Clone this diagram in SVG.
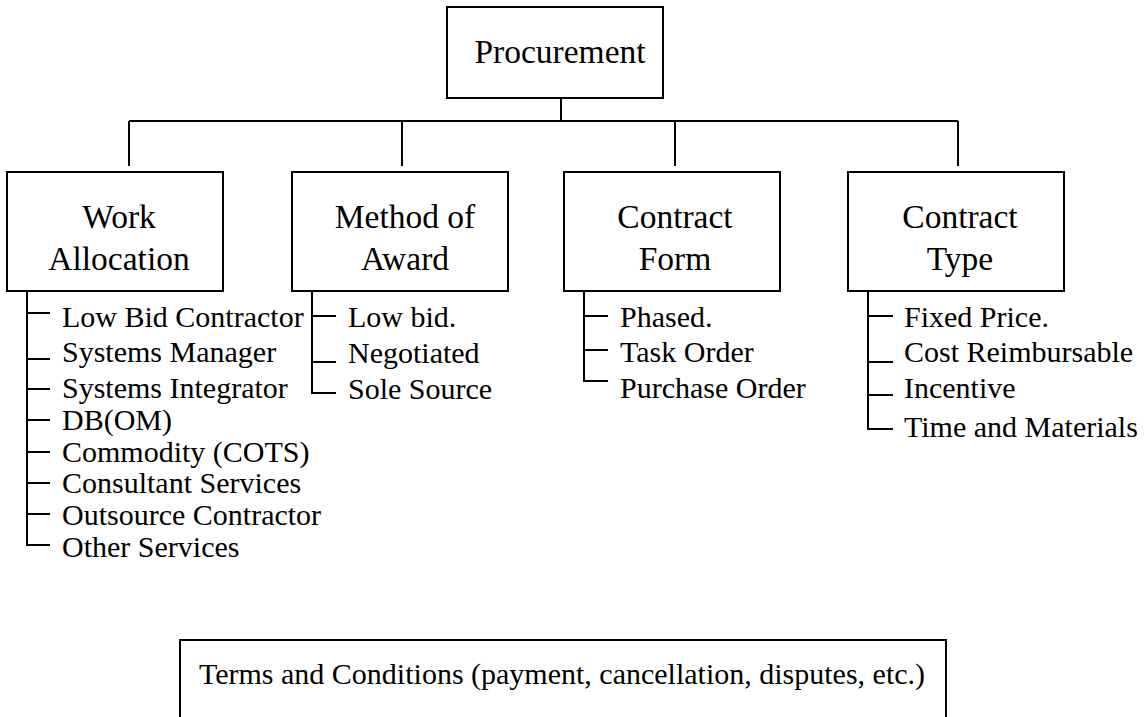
<svg xmlns="http://www.w3.org/2000/svg" width="1147" height="717" viewBox="0 0 1147 717">
  <style>
    .box { fill: #ffffff; stroke: #000000; stroke-width: 2; }
    .line { fill: none; stroke: #000000; stroke-width: 2; }
    .head { font-family: "Liberation Serif", "Times New Roman", serif; font-size: 33.5px; fill: #000000; text-anchor: middle; }
    .item { font-family: "Liberation Serif", "Times New Roman", serif; font-size: 30px; fill: #000000; }
  </style>
  <rect width="1147" height="717" fill="#ffffff"/>

  <!-- tree connectors -->
  <g id="connectors" class="line">
    <path d="M561 98 V121"/>
    <path d="M129 121 H958"/>
    <path d="M129 121 V166 M402 121 V166 M675 121 V166 M958 121 V166"/>
  </g>

  <g id="procurement">
    <rect class="box" x="447" y="7" width="216" height="91"/>
    <text class="head" x="560" y="63">Procurement</text>
  </g>

  <g id="work-allocation">
    <rect class="box" x="7" y="172" width="216" height="119"/>
    <text class="head" x="119" y="228">Work</text>
    <text class="head" x="119" y="270">Allocation</text>
    <path class="line" d="M27 291 V545 H50 M27 313 H50 M27 359 H50 M27 389 H50 M27 420 H50 M27 452 H50 M27 483 H50 M27 514 H50"/>
    <text class="item" x="62" y="327">Low Bid Contractor</text>
    <text class="item" x="62" y="362">Systems Manager</text>
    <text class="item" x="62" y="398">Systems Integrator</text>
    <text class="item" x="62" y="430">DB(OM)</text>
    <text class="item" x="62" y="462">Commodity (COTS)</text>
    <text class="item" x="62" y="493">Consultant Services</text>
    <text class="item" x="62" y="525">Outsource Contractor</text>
    <text class="item" x="62" y="557">Other Services</text>
  </g>

  <g id="method-of-award">
    <rect class="box" x="292" y="172" width="216" height="119"/>
    <text class="head" x="405" y="228">Method of</text>
    <text class="head" x="405" y="270">Award</text>
    <path class="line" d="M312 291 V393 H336 M312 316 H336 M312 362 H336"/>
    <text class="item" x="348" y="327">Low bid.</text>
    <text class="item" x="348" y="363">Negotiated</text>
    <text class="item" x="348" y="399">Sole Source</text>
  </g>

  <g id="contract-form">
    <rect class="box" x="564" y="172" width="216" height="119"/>
    <text class="head" x="675" y="228">Contract</text>
    <text class="head" x="675" y="270">Form</text>
    <path class="line" d="M584 291 V381 H608 M584 316 H608 M584 350 H608"/>
    <text class="item" x="620" y="327">Phased.</text>
    <text class="item" x="620" y="362">Task Order</text>
    <text class="item" x="620" y="398">Purchase Order</text>
  </g>

  <g id="contract-type">
    <rect class="box" x="848" y="172" width="216" height="119"/>
    <text class="head" x="960" y="228">Contract</text>
    <text class="head" x="960" y="270">Type</text>
    <path class="line" d="M868 291 V429 H893 M868 316 H893 M868 362 H893 M868 395 H893"/>
    <text class="item" x="904" y="327">Fixed Price.</text>
    <text class="item" x="904" y="362">Cost Reimbursable</text>
    <text class="item" x="904" y="398">Incentive</text>
    <text class="item" x="904" y="437">Time and Materials</text>
  </g>

  <g id="terms-and-conditions">
    <path class="line" d="M180 719 V640 H946 V719"/>
    <text class="item" x="199" y="684">Terms and Conditions (payment, cancellation, disputes, etc.)</text>
  </g>
</svg>
